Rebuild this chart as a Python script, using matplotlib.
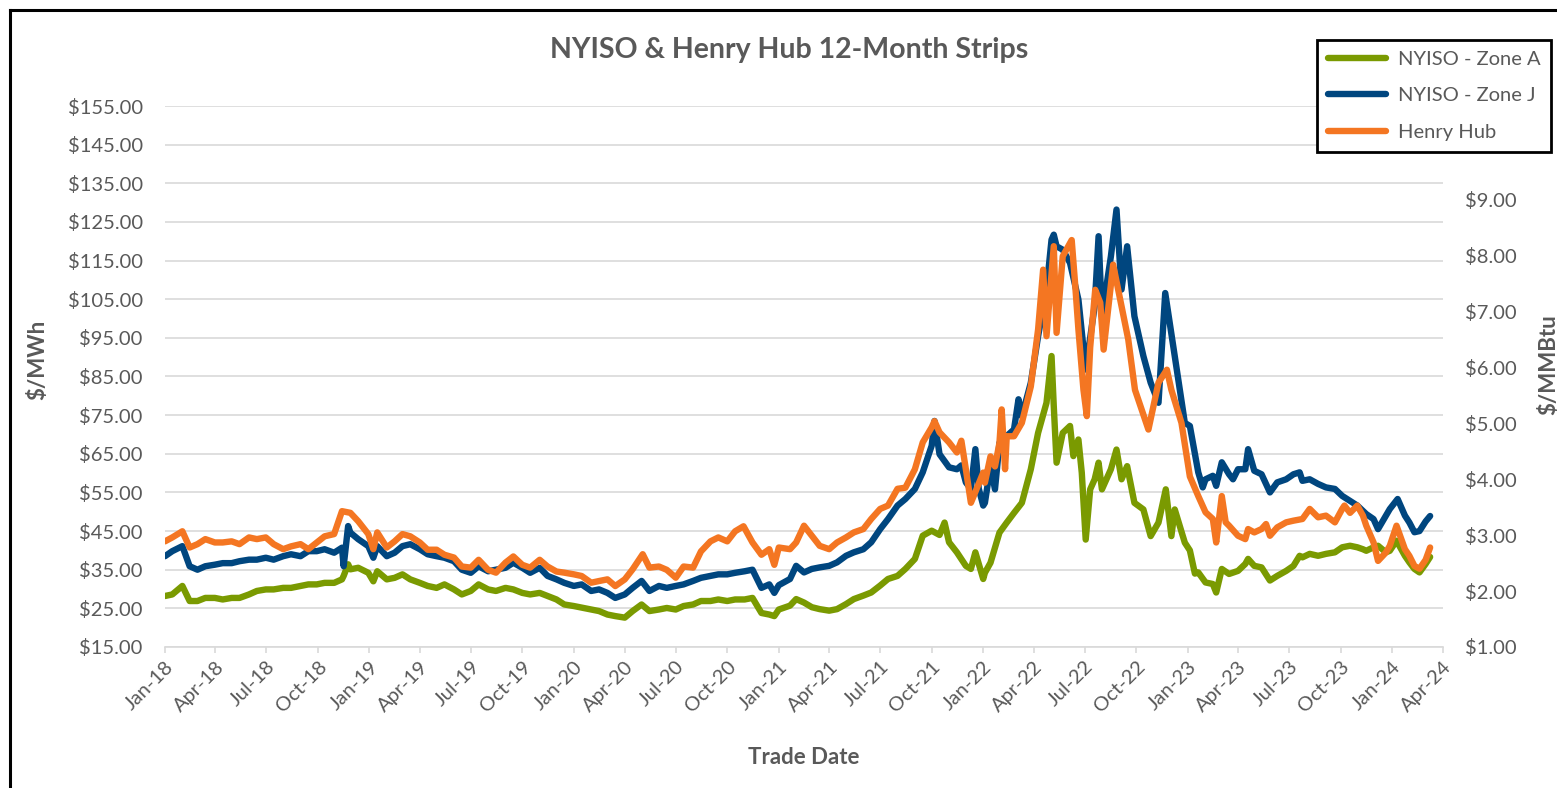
import matplotlib
matplotlib.use('Agg')
import matplotlib.pyplot as plt
import matplotlib.dates as mdates
from matplotlib.lines import Line2D
from matplotlib.ticker import FuncFormatter
import pandas as pd

plt.rcParams['font.family'] = ['Lato', 'DejaVu Sans']

# NYISO Zone A 12-month strip, $/MWh
zone_a_dates = [
    '2018-01-01', '2018-01-14', '2018-02-01', '2018-02-14', '2018-02-28', '2018-03-14', '2018-03-31', '2018-04-14',
    '2018-04-30', '2018-05-14', '2018-05-31', '2018-06-14', '2018-06-30', '2018-07-14', '2018-07-31', '2018-08-14',
    '2018-08-31', '2018-09-14', '2018-09-29', '2018-10-13', '2018-10-30', '2018-11-13', '2018-11-16', '2018-11-24',
    '2018-11-28', '2018-12-12', '2018-12-30',
    '2019-01-08', '2019-01-15', '2019-02-01', '2019-02-15', '2019-03-01', '2019-03-15', '2019-04-01', '2019-04-15',
    '2019-05-01', '2019-05-15', '2019-06-01', '2019-06-15', '2019-07-01', '2019-07-15', '2019-08-01', '2019-08-15',
    '2019-09-01', '2019-09-15', '2019-10-01', '2019-10-15', '2019-11-01', '2019-11-15', '2019-12-01', '2019-12-15',
    '2020-01-01', '2020-01-15', '2020-02-01', '2020-02-15', '2020-03-01', '2020-03-15', '2020-04-01', '2020-04-15',
    '2020-05-01', '2020-05-15', '2020-06-01', '2020-06-15', '2020-07-01', '2020-07-15', '2020-08-01', '2020-08-15',
    '2020-09-01', '2020-09-15', '2020-10-01', '2020-10-15', '2020-11-01', '2020-11-15', '2020-12-01', '2020-12-15',
    '2020-12-24',
    '2021-01-01', '2021-01-21', '2021-02-01', '2021-02-15', '2021-03-01', '2021-03-15', '2021-04-01', '2021-04-15',
    '2021-05-01', '2021-05-15', '2021-06-01', '2021-06-15', '2021-07-01', '2021-07-15', '2021-08-01', '2021-08-15',
    '2021-09-01', '2021-09-15', '2021-10-01', '2021-10-15', '2021-10-24', '2021-11-01', '2021-11-15', '2021-12-01',
    '2021-12-10', '2021-12-18',
    '2022-01-01', '2022-01-04', '2022-01-14', '2022-01-30', '2022-02-12', '2022-02-25', '2022-03-11', '2022-03-27',
    '2022-04-09', '2022-04-24', '2022-05-03', '2022-05-07', '2022-05-12', '2022-05-23', '2022-06-05', '2022-06-11',
    '2022-06-20', '2022-06-26', '2022-07-03', '2022-07-11', '2022-07-19', '2022-07-26', '2022-08-01', '2022-08-17',
    '2022-08-27', '2022-09-05', '2022-09-15', '2022-09-28', '2022-10-14', '2022-10-27', '2022-11-10', '2022-11-23',
    '2022-12-03', '2022-12-09', '2022-12-27',
    '2023-01-05', '2023-01-14', '2023-01-20', '2023-02-02', '2023-02-15', '2023-02-21', '2023-03-03', '2023-03-16',
    '2023-04-01', '2023-04-14', '2023-04-19', '2023-04-30', '2023-05-13', '2023-05-28', '2023-06-10', '2023-06-26',
    '2023-07-09', '2023-07-20', '2023-07-25', '2023-08-07', '2023-08-22', '2023-09-05', '2023-09-21', '2023-10-04',
    '2023-10-18', '2023-10-31', '2023-11-10', '2023-11-16', '2023-11-29', '2023-12-07', '2023-12-21', '2023-12-28',
    '2024-01-09', '2024-01-24', '2024-02-01', '2024-02-10', '2024-02-19', '2024-03-01', '2024-03-09',
]
zone_a = [
    28.2, 28.6, 30.8, 26.9, 26.9, 27.7, 27.7, 27.3,
    27.7, 27.7, 28.6, 29.5, 29.9, 29.9, 30.3, 30.3,
    30.8, 31.2, 31.2, 31.6, 31.6, 32.5, 33.4, 36.4,
    35.1, 35.5, 34.2,
    32.0, 34.6, 32.5, 32.9, 33.8, 32.5, 31.6, 30.8,
    30.3, 31.2, 29.9, 28.6, 29.5, 31.2, 29.9, 29.5,
    30.3, 29.9, 29.0, 28.6, 29.0, 28.2, 27.3, 26.0,
    25.6, 25.2, 24.7, 24.3, 23.4, 23.0, 22.6, 24.3,
    26.0, 24.3, 24.7, 25.1, 24.7, 25.6, 26.0, 26.9,
    26.9, 27.3, 26.9, 27.3, 27.3, 27.7, 23.8, 23.4,
    23.0,
    24.7, 25.7, 27.4, 26.5, 25.3, 24.8, 24.4, 24.8,
    26.1, 27.4, 28.3, 29.1, 30.9, 32.6, 33.4, 35.2,
    37.8, 43.8, 45.1, 44.0, 47.2, 42.1, 39.5, 36.0,
    35.2, 39.5,
    32.6, 34.2, 36.8, 44.6, 47.2, 49.7, 52.3, 61.0,
    70.4, 78.2, 90.3, 77.3, 62.7, 70.4, 72.2, 64.4,
    68.7, 60.1, 42.8, 55.8, 58.4, 62.7, 55.8, 61.0,
    66.1, 58.4, 61.8, 52.3, 50.6, 43.7, 47.2, 55.8,
    43.7, 50.6, 42.0,
    40.0, 34.0, 34.3, 31.7, 31.3, 29.1, 35.2, 33.9,
    34.7, 36.5, 37.8, 36.0, 35.6, 32.2, 33.4, 34.7,
    36.0, 38.6, 38.2, 39.1, 38.6, 39.1, 39.5, 40.8,
    41.2, 40.8, 40.3, 39.9, 40.8, 41.2, 39.5, 39.9,
    42.5, 38.6, 36.9, 35.2, 34.3, 36.5, 38.3,
]

# NYISO Zone J 12-month strip, $/MWh
zone_j_dates = [
    '2018-01-01', '2018-01-14', '2018-02-01', '2018-02-14', '2018-02-28', '2018-03-14', '2018-03-31', '2018-04-14',
    '2018-04-30', '2018-05-14', '2018-05-31', '2018-06-14', '2018-06-30', '2018-07-14', '2018-07-31', '2018-08-14',
    '2018-08-31', '2018-09-14', '2018-09-29', '2018-10-13', '2018-10-30', '2018-11-13', '2018-11-16', '2018-11-24',
    '2018-11-28', '2018-12-12', '2018-12-30',
    '2019-01-08', '2019-01-15', '2019-02-01', '2019-02-15', '2019-03-01', '2019-03-15', '2019-04-01', '2019-04-15',
    '2019-05-01', '2019-05-15', '2019-06-01', '2019-06-15', '2019-07-01', '2019-07-15', '2019-08-01', '2019-08-15',
    '2019-09-01', '2019-09-15', '2019-10-01', '2019-10-15', '2019-11-01', '2019-11-15', '2019-12-01', '2019-12-15',
    '2020-01-01', '2020-01-15', '2020-02-01', '2020-02-15', '2020-03-01', '2020-03-15', '2020-04-01', '2020-04-15',
    '2020-05-01', '2020-05-15', '2020-06-01', '2020-06-15', '2020-07-01', '2020-07-15', '2020-08-01', '2020-08-15',
    '2020-09-01', '2020-09-15', '2020-10-01', '2020-10-15', '2020-11-01', '2020-11-15', '2020-12-01', '2020-12-15',
    '2020-12-24',
    '2021-01-01', '2021-01-21', '2021-02-01', '2021-02-15', '2021-03-01', '2021-03-15', '2021-04-01', '2021-04-15',
    '2021-05-01', '2021-05-15', '2021-06-01', '2021-06-15', '2021-07-01', '2021-07-15', '2021-08-01', '2021-08-15',
    '2021-09-01', '2021-09-15', '2021-10-01', '2021-10-06', '2021-10-15', '2021-11-01', '2021-11-15', '2021-11-23',
    '2021-12-01', '2021-12-10', '2021-12-18', '2021-12-24',
    '2022-01-01', '2022-01-04', '2022-01-14', '2022-01-22', '2022-01-30', '2022-02-12', '2022-02-25', '2022-03-05',
    '2022-03-11', '2022-03-27', '2022-04-09', '2022-04-24', '2022-05-03', '2022-05-07', '2022-05-12', '2022-05-23',
    '2022-06-05', '2022-06-20', '2022-07-03', '2022-07-19', '2022-07-26', '2022-08-01', '2022-08-17', '2022-08-27',
    '2022-09-05', '2022-09-15', '2022-09-28', '2022-10-14', '2022-10-27', '2022-11-10', '2022-11-22', '2022-11-30',
    '2022-12-09', '2022-12-18', '2022-12-27',
    '2023-01-05', '2023-01-20', '2023-01-28', '2023-02-02', '2023-02-15', '2023-02-21', '2023-03-03', '2023-03-16',
    '2023-03-23', '2023-04-01', '2023-04-14', '2023-04-19', '2023-04-30', '2023-05-13', '2023-05-28', '2023-06-10',
    '2023-06-26', '2023-07-09', '2023-07-20', '2023-07-25', '2023-08-07', '2023-08-22', '2023-09-05', '2023-09-21',
    '2023-10-04', '2023-10-18', '2023-10-31', '2023-11-16', '2023-11-29', '2023-12-07', '2023-12-21', '2023-12-28',
    '2024-01-11', '2024-01-24', '2024-02-01', '2024-02-10', '2024-02-19', '2024-03-01', '2024-03-09',
]
zone_j = [
    38.5, 39.8, 41.1, 35.9, 35.0, 35.9, 36.3, 36.7,
    36.7, 37.2, 37.6, 37.6, 38.1, 37.6, 38.5, 39.0,
    38.5, 39.8, 39.8, 40.3, 39.4, 40.7, 35.9, 46.3,
    44.6, 42.9, 41.1,
    38.1, 41.1, 38.5, 39.4, 41.1, 41.6, 40.3, 39.0,
    38.5, 38.1, 37.2, 35.0, 34.2, 35.9, 34.6, 35.0,
    35.5, 36.8, 35.5, 34.2, 35.5, 33.4, 32.5, 31.6,
    30.8, 31.2, 29.5, 29.9, 29.0, 27.7, 28.6, 30.3,
    32.1, 29.5, 30.8, 30.3, 30.8, 31.2, 32.1, 32.9,
    33.4, 33.8, 33.8, 34.2, 34.6, 35.0, 30.3, 31.2,
    29.0,
    31.0, 32.6, 36.0, 34.3, 35.2, 35.6, 36.0, 36.9,
    38.6, 39.5, 40.3, 42.1, 45.5, 48.1, 51.6, 53.3,
    55.9, 60.2, 67.1, 73.5, 64.9, 61.5, 61.0, 62.0,
    57.6, 55.9, 66.2, 56.0,
    51.6, 52.3, 61.8, 55.8, 67.8, 69.6, 71.3, 79.1,
    74.7, 83.4, 95.4, 107.5, 120.4, 121.7, 118.7, 117.8,
    114.4, 104.9, 86.8, 103.2, 121.3, 100.6, 116.1, 128.2,
    107.5, 118.7, 100.6, 90.3, 83.4, 78.2, 106.6, 98.9,
    90.3, 81.6, 73.0,
    72.2, 60.2, 56.3, 58.4, 59.3, 56.7, 62.8, 59.7,
    58.4, 61.0, 61.0, 66.2, 60.6, 59.7, 55.0, 57.6,
    58.4, 59.7, 60.2, 58.0, 58.4, 57.2, 56.3, 55.9,
    54.1, 52.8, 51.6, 49.4, 48.1, 45.5, 49.0, 50.7,
    53.3, 49.0, 47.2, 44.7, 45.0, 47.5, 48.9,
]

# Henry Hub 12-month strip, $/MMBtu
hh_dates = [
    '2018-01-01', '2018-01-14', '2018-02-01', '2018-02-14', '2018-02-28', '2018-03-14', '2018-03-31', '2018-04-14',
    '2018-04-30', '2018-05-14', '2018-05-31', '2018-06-14', '2018-06-30', '2018-07-14', '2018-07-31', '2018-08-14',
    '2018-08-31', '2018-09-14', '2018-09-29', '2018-10-13', '2018-10-30', '2018-11-13', '2018-11-28', '2018-12-12',
    '2018-12-30',
    '2019-01-08', '2019-01-15', '2019-02-01', '2019-02-15', '2019-03-01', '2019-03-15', '2019-04-01', '2019-04-15',
    '2019-05-01', '2019-05-15', '2019-06-01', '2019-06-15', '2019-07-01', '2019-07-15', '2019-08-01', '2019-08-15',
    '2019-09-01', '2019-09-15', '2019-10-01', '2019-10-15', '2019-11-01', '2019-11-15', '2019-12-01', '2019-12-15',
    '2020-01-01', '2020-01-15', '2020-02-01', '2020-02-15', '2020-03-01', '2020-03-15', '2020-04-01', '2020-04-15',
    '2020-05-03', '2020-05-15', '2020-06-01', '2020-06-15', '2020-07-01', '2020-07-15', '2020-08-01', '2020-08-15',
    '2020-09-01', '2020-09-15', '2020-10-01', '2020-10-15', '2020-10-30', '2020-11-15', '2020-12-01', '2020-12-15',
    '2020-12-24',
    '2021-01-01', '2021-01-21', '2021-02-01', '2021-02-15', '2021-03-01', '2021-03-15', '2021-04-01', '2021-04-15',
    '2021-05-01', '2021-05-15', '2021-06-01', '2021-06-15', '2021-07-01', '2021-07-15', '2021-08-01', '2021-08-15',
    '2021-09-01', '2021-09-15', '2021-10-01', '2021-10-06', '2021-10-15', '2021-11-01', '2021-11-15', '2021-11-23',
    '2021-12-01', '2021-12-10', '2021-12-15',
    '2022-01-01', '2022-01-04', '2022-01-14', '2022-01-22', '2022-01-30', '2022-02-03', '2022-02-09', '2022-02-12',
    '2022-02-25', '2022-03-11', '2022-03-27', '2022-04-09', '2022-04-18', '2022-04-24', '2022-05-07', '2022-05-12',
    '2022-05-23', '2022-06-08', '2022-06-14', '2022-06-20', '2022-06-29', '2022-07-05', '2022-07-11', '2022-07-20',
    '2022-07-29', '2022-08-04', '2022-08-21', '2022-08-30', '2022-09-17', '2022-09-29', '2022-10-23', '2022-11-10',
    '2022-11-25', '2022-12-03', '2022-12-21',
    '2023-01-05', '2023-01-20', '2023-02-02', '2023-02-15', '2023-02-21', '2023-03-03', '2023-03-10', '2023-03-16',
    '2023-04-01', '2023-04-14', '2023-04-19', '2023-04-30', '2023-05-13', '2023-05-21', '2023-05-28', '2023-06-10',
    '2023-06-26', '2023-07-09', '2023-07-25', '2023-08-07', '2023-08-22', '2023-09-05', '2023-09-21', '2023-10-04',
    '2023-10-08', '2023-10-18', '2023-10-31', '2023-11-10', '2023-11-16', '2023-11-29', '2023-12-07', '2023-12-21',
    '2023-12-28',
    '2024-01-09', '2024-01-24', '2024-02-01', '2024-02-10', '2024-02-19', '2024-03-01', '2024-03-09',
]
henry_hub = [
    2.89, 2.96, 3.07, 2.78, 2.84, 2.93, 2.87, 2.87,
    2.89, 2.84, 2.96, 2.93, 2.96, 2.84, 2.75, 2.80,
    2.84, 2.75, 2.87, 2.98, 3.02, 3.43, 3.40, 3.25,
    3.02,
    2.75, 3.05, 2.78, 2.89, 3.02, 2.98, 2.87, 2.74,
    2.74, 2.65, 2.60, 2.44, 2.42, 2.56, 2.38, 2.33,
    2.51, 2.62, 2.47, 2.42, 2.56, 2.44, 2.35, 2.33,
    2.30, 2.27, 2.15, 2.18, 2.21, 2.09, 2.21, 2.39,
    2.66, 2.42, 2.44, 2.38, 2.24, 2.44, 2.42, 2.71,
    2.89, 2.96, 2.89, 3.07, 3.16, 2.87, 2.65, 2.75,
    2.47,
    2.78, 2.75, 2.87, 3.17, 2.99, 2.81, 2.75, 2.87,
    2.96, 3.05, 3.11, 3.29, 3.47, 3.53, 3.83, 3.85,
    4.18, 4.66, 4.93, 5.04, 4.84, 4.66, 4.48, 4.69,
    4.18, 3.58, 3.70,
    4.12, 3.94, 4.41, 4.23, 4.65, 5.25, 4.18, 4.77,
    4.77, 5.01, 5.66, 6.68, 7.75, 6.56, 8.17, 6.62,
    7.99, 8.28, 7.51, 6.68, 5.60, 5.13, 6.36, 7.39,
    7.16, 6.32, 7.84, 7.39, 6.50, 5.60, 4.89, 5.73,
    5.96, 5.60, 5.01,
    4.05, 3.70, 3.41, 3.29, 2.87, 3.70, 3.23, 3.17,
    2.99, 2.93, 3.11, 3.05, 3.11, 3.20, 2.99, 3.14,
    3.23, 3.26, 3.29, 3.47, 3.32, 3.35, 3.23, 3.47,
    3.53, 3.40, 3.53, 3.35, 3.17, 2.87, 2.54, 2.69,
    2.81,
    3.17, 2.75, 2.63, 2.45, 2.40, 2.56, 2.78,
]

series_labels = ['NYISO - Zone A', 'NYISO - Zone J', 'Henry Hub']
series_colors = ['#7A9A01', '#00467F', '#F47622']

left_ticks = list(range(15, 156, 10))
right_ticks = list(range(1, 10))

grey = '#595959'
grid_grey = '#D9D9D9'

fig = plt.figure(figsize=(15.57, 7.88), dpi=100)
ax = fig.add_axes([165 / 1557, 1 - 647 / 788, (1443 - 165) / 1557, (647 - 106) / 788])
ax2 = ax.twinx()

line_kw = dict(lw=4.6, solid_capstyle='round', solid_joinstyle='round')
ax.plot(pd.to_datetime(zone_a_dates), zone_a, color=series_colors[0], **line_kw)
ax.plot(pd.to_datetime(zone_j_dates), zone_j, color=series_colors[1], **line_kw)
ax2.plot(pd.to_datetime(hh_dates), henry_hub, color=series_colors[2], **line_kw)

ax.set_xlim(pd.Timestamp('2018-01-01'), pd.Timestamp('2024-04-01'))
ax.set_ylim(15, 155)
ax2.set_ylim(1, 1 + (647 - 106) / 55.9)

ax.set_yticks(left_ticks)
ax2.set_yticks(right_ticks)
ax.yaxis.set_major_formatter(FuncFormatter(lambda v, p: '${:,.2f}'.format(v)))
ax2.yaxis.set_major_formatter(FuncFormatter(lambda v, p: '${:,.2f}'.format(v)))

ax.xaxis.set_major_locator(mdates.MonthLocator(bymonth=[1, 4, 7, 10]))
ax.xaxis.set_major_formatter(mdates.DateFormatter('%b-%y'))

ax.grid(axis='y', color=grid_grey, lw=1.2)
ax.set_axisbelow(True)
for s in ['top', 'right', 'left']:
    ax.spines[s].set_visible(False)
for s in ['top', 'right', 'left', 'bottom']:
    ax2.spines[s].set_visible(False)
ax.spines['bottom'].set_color(grid_grey)
ax.spines['bottom'].set_linewidth(1.2)

ax.tick_params(axis='y', length=0, pad=16, labelsize=14.5, labelcolor=grey)
ax2.tick_params(axis='y', length=0, pad=16, labelsize=14.5, labelcolor=grey)
ax.tick_params(axis='x', direction='out', length=4, width=1.2, color=grid_grey,
               labelsize=14.5, labelcolor=grey, pad=4)
for lab in ax.get_xticklabels():
    lab.set_rotation(45)
    lab.set_ha('right')
    lab.set_va('top')
    lab.set_rotation_mode('anchor')

fig.text(789 / 1557, 1 - 50 / 788, 'NYISO & Henry Hub 12-Month Strips', ha='center', va='center',
         fontsize=20.5, fontweight='bold', color=grey)
fig.text(804 / 1557, 1 - 757 / 788, 'Trade Date', ha='center', va='center',
         fontsize=16, fontweight='bold', color=grey)
fig.text(38 / 1557, 1 - 360 / 788, '$/MWh', ha='center', va='center', rotation=90,
         fontsize=16, fontweight='bold', color=grey)
fig.text(1549 / 1557, 1 - 365 / 788, '$/MMBtu', ha='center', va='center', rotation=90,
         fontsize=16, fontweight='bold', color=grey)

handles = [Line2D([], [], color=c, lw=4.6, solid_capstyle='round') for c in series_colors]
leg = fig.legend(handles, series_labels, loc='upper left', bbox_to_anchor=(1317 / 1557, 1 - 40 / 788),
                 frameon=True, fancybox=False, framealpha=1, edgecolor='black', fontsize=14.5,
                 handlelength=2.9, handletextpad=0.55, labelspacing=0.95, borderpad=0.55,
                 borderaxespad=0)
leg.get_frame().set_linewidth(2)
for t in leg.get_texts():
    t.set_color(grey)

# outer chart frame (right and bottom edges fall outside the image)
fig.add_artist(Line2D([10 / 1557, 10 / 1557], [0, 1 - 10 / 788], transform=fig.transFigure, color='black', lw=2.2))
fig.add_artist(Line2D([10 / 1557, 1], [1 - 10 / 788, 1 - 10 / 788], transform=fig.transFigure, color='black', lw=2.2))

fig.savefig('out.png', dpi=100)
